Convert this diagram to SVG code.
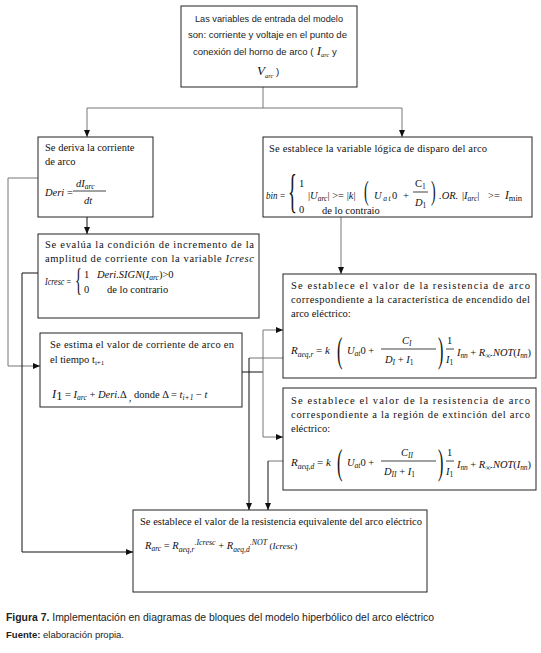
<svg xmlns="http://www.w3.org/2000/svg" width="541" height="653" viewBox="0 0 541 653">
<style>
.bx{fill:#fff;stroke:#222;stroke-width:1}
.s{font-family:"Liberation Serif",serif;font-size:10.5px;fill:#111}
.sa{font-family:"Liberation Sans",sans-serif;font-size:9.5px;fill:#222}
.i{font-style:italic}
.sub{font-size:7.5px;font-style:italic}
.ln{fill:none;stroke:#111;stroke-width:1}
.lg{fill:none;stroke:#777;stroke-width:1}
.fl{stroke:#111;stroke-width:0.8}
</style>
<defs>
<marker id="ar" markerUnits="userSpaceOnUse" markerWidth="7" markerHeight="6" refX="7" refY="3" orient="auto">
<path d="M0,0 L7,3 L0,6 z" fill="#111"/>
</marker>
</defs>
<rect width="541" height="653" fill="#fff"/>

<g id="connectors">
<path class="lg" d="M263 87 V108 H87 V137" marker-end="url(#ar)"/>
<path class="lg" d="M263 108 H402 V137" marker-end="url(#ar)"/>
<path class="ln" d="M87 217 V234" marker-end="url(#ar)"/>
<path class="lg" d="M38 178 H8 V366 H40" marker-end="url(#ar)"/>
<path class="ln" d="M38 273 H22 V552 H133" marker-end="url(#ar)"/>
<path class="lg" d="M341 217 V274" marker-end="url(#ar)"/>
<path class="ln" d="M242 372 H263"/>
<path class="lg" d="M263 372 V330 H283" marker-end="url(#ar)"/>
<path class="lg" d="M263 372 V437 H283" marker-end="url(#ar)"/>
<path class="lg" d="M283 358 H249"/>
<path class="ln" d="M249 358 V510" marker-end="url(#ar)"/>
<path class="lg" d="M283 461 H268"/>
<path class="ln" d="M268 461 V510" marker-end="url(#ar)"/>
</g>

<g id="input">
<rect class="bx" x="181" y="6" width="176" height="81" stroke="#555"/>
<text class="sa" x="195" y="22" textLength="148" lengthAdjust="spacingAndGlyphs">Las variables de entrada del modelo</text>
<text class="sa" x="188" y="38" textLength="159" lengthAdjust="spacingAndGlyphs">son: corriente y voltaje en el punto de</text>
<text class="sa" x="193" y="55">conexión del horno de arco (<tspan font-family="Liberation Serif, serif" font-style="italic" font-size="13px"> I</tspan><tspan font-family="Liberation Serif, serif" font-style="italic" font-size="6.5px" dy="2">arc</tspan><tspan dy="-2"> y</tspan></text>
<text class="s i" x="257" y="75" style="font-size:13px">V<tspan font-size="6.5px" dy="3">arc</tspan><tspan font-family="Liberation Sans, sans-serif" font-style="normal" font-size="9.5px" dy="-3"> )</tspan></text>
</g>

<g id="deri">
<rect class="bx" x="38" y="137" width="115" height="80"/>
<text class="s" x="45" y="151">Se deriva la corriente</text>
<text class="s" x="45" y="165">de arco</text>
<text class="s i" x="45" y="196">Deri <tspan font-style="normal">=</tspan></text>
<text class="s i" x="76" y="187">dI<tspan class="sub" dy="2">arc</tspan></text>
<line class="fl" x1="73" y1="191" x2="106" y2="191"/>
<text class="s i" x="84" y="204">dt</text>
</g>

<g id="icresc">
<rect class="bx" x="38" y="234" width="221" height="84"/>
<text class="s" x="45" y="248" textLength="209" lengthAdjust="spacing">Se evalúa la condición de incremento de la</text>
<text class="s" x="45" y="262" textLength="209" lengthAdjust="spacing">amplitud de corriente con la variable <tspan class="i">Icresc</tspan></text>
<text class="s i" x="45" y="285" textLength="26" lengthAdjust="spacingAndGlyphs">Icresc <tspan font-style="normal">=</tspan></text>
<text class="s" transform="translate(75,291) scale(0.45,1)" style="font-size:32px">{</text>
<text class="s" x="84" y="278">1</text>
<text class="s i" x="97" y="278">Deri.SIGN<tspan font-style="normal">(</tspan>I<tspan class="sub" dy="2">arc</tspan><tspan font-style="normal" dy="-2">)&gt;0</tspan></text>
<text class="s" x="84" y="293">0</text>
<text class="s" x="107" y="293">de lo contrario</text>
</g>

<g id="estima">
<rect class="bx" x="40" y="333" width="202" height="74"/>
<text class="s" x="50" y="348" textLength="184" lengthAdjust="spacing">Se estima el valor de corriente de arco en</text>
<text class="s" x="50" y="363">el tiempo t<tspan font-size="7px" dy="2">i+1</tspan></text>
<text class="s" x="52" y="398" style="font-size:12.5px"><tspan class="i">I</tspan><tspan dy="2">1</tspan><tspan dy="-2" font-size="10.5px"> = </tspan><tspan class="i" font-size="10.5px">I</tspan><tspan class="sub" dy="2">arc</tspan><tspan font-size="10.5px" dy="-2"> + </tspan><tspan class="i" font-size="10.5px">Deri.</tspan><tspan font-size="10.5px">Δ</tspan><tspan font-size="10.5px" dy="3"> , </tspan><tspan font-size="10.5px" dy="-3">donde Δ = </tspan><tspan class="i" font-size="10.5px">t</tspan><tspan class="sub" dy="2">i+1</tspan><tspan font-size="10.5px" dy="-2"> − </tspan><tspan class="i" font-size="10.5px">t</tspan></text>
</g>

<g id="disparo">
<rect class="bx" x="263" y="137" width="269" height="80"/>
<text class="s" x="269" y="152" textLength="218" lengthAdjust="spacing">Se establece la variable lógica de disparo del arco</text>
<text class="s i" x="266" y="199" textLength="19" lengthAdjust="spacingAndGlyphs">bin <tspan font-style="normal">=</tspan></text>
<text class="s" transform="translate(288,207) scale(0.4,1)" style="font-size:46px">{</text>
<text class="s" x="299" y="187">1</text>
<text class="s" x="308" y="199">|<tspan class="i">U</tspan><tspan class="sub" dy="2">arc</tspan><tspan dy="-2">| &gt;= |</tspan><tspan class="i">k</tspan>|</text>
<text class="s" transform="translate(364,200) scale(0.5,1)" style="font-size:28px">(</text>
<text class="s i" x="374" y="199" textLength="35" lengthAdjust="spacing">U<tspan class="sub" dy="2">at</tspan><tspan font-style="normal" dy="-2">0 +</tspan></text>
<text class="s" x="415" y="187">C<tspan font-size="7.5px" dy="2">1</tspan></text>
<text class="s i" x="415" y="206">D<tspan font-size="7.5px" font-style="normal" dy="2">1</tspan></text>
<line class="fl" x1="413" y1="192" x2="428" y2="192"/>
<text class="s" transform="translate(431,200) scale(0.5,1)" style="font-size:28px">)</text>
<text class="s i" x="439" y="199">.OR.</text>
<text class="s" x="462" y="199">|<tspan class="i">I</tspan><tspan class="sub" dy="2">arc</tspan><tspan dy="-2">|</tspan></text>
<text class="s" x="488" y="199">&gt;=</text>
<text class="s i" x="505" y="199" style="font-size:11.5px">I<tspan font-size="8.5px" font-style="normal" dy="2">min</tspan></text>
<text class="s" x="299" y="213">0</text>
<text class="s" x="322" y="214">de lo contraio</text>
</g>

<g id="encendido">
<rect class="bx" x="283" y="274" width="253" height="104"/>
<text class="s" x="291" y="289" textLength="239" lengthAdjust="spacing">Se establece el valor de la resistencia de arco</text>
<text class="s" x="291" y="303" textLength="239" lengthAdjust="spacing">correspondiente a la característica de encendido del</text>
<text class="s" x="291" y="317">arco eléctrico:</text>
<text class="s i" x="291" y="354" style="font-size:11px">R<tspan class="sub" dy="3">aeq,r</tspan><tspan font-style="normal" dy="-3"> = </tspan>k</text>
<text class="s" transform="translate(337,362) scale(0.45,1)" style="font-size:36px">(</text>
<text class="s i" x="347" y="354">U<tspan class="sub" dy="2">at</tspan><tspan font-style="normal" dy="-2">0 + </tspan></text>
<text class="s i" x="402" y="344">C<tspan class="sub" dy="2">I</tspan></text>
<line class="fl" x1="381" y1="349" x2="436" y2="349"/>
<text class="s i" x="385" y="363">D<tspan class="sub" dy="2">I</tspan><tspan font-style="normal" dy="-2"> + </tspan>I<tspan font-size="7.5px" font-style="normal" dy="2">1</tspan></text>
<text class="s" transform="translate(438,362) scale(0.45,1)" style="font-size:36px">)</text>
<text class="s" x="447" y="344">1</text>
<line class="fl" x1="446" y1="349" x2="454" y2="349"/>
<text class="s i" x="446" y="363">I<tspan font-size="7.5px" font-style="normal" dy="2">1</tspan></text>
<text class="s i" x="457" y="356" textLength="74" lengthAdjust="spacing">I<tspan class="sub" dy="2">nn</tspan><tspan font-style="normal" dy="-2"> + </tspan>R<tspan class="sub" dy="2">∞</tspan><tspan dy="-2">.NOT</tspan><tspan font-style="normal">(</tspan>I<tspan class="sub" dy="2">nn</tspan><tspan font-style="normal" dy="-2">)</tspan></text>
</g>

<g id="extincion">
<rect class="bx" x="283" y="388" width="253" height="102"/>
<text class="s" x="291" y="404" textLength="239" lengthAdjust="spacing">Se establece el valor de la resistencia de arco</text>
<text class="s" x="291" y="418" textLength="239" lengthAdjust="spacing">correspondiente a la región de extinción del arco</text>
<text class="s" x="291" y="432">eléctrico:</text>
<text class="s i" x="291" y="466" style="font-size:11px">R<tspan class="sub" dy="3">aeq,d</tspan><tspan font-style="normal" dy="-3"> = </tspan>k</text>
<text class="s" transform="translate(337,474) scale(0.45,1)" style="font-size:36px">(</text>
<text class="s i" x="347" y="466">U<tspan class="sub" dy="2">at</tspan><tspan font-style="normal" dy="-2">0 + </tspan></text>
<text class="s i" x="401" y="456">C<tspan class="sub" dy="2">II</tspan></text>
<line class="fl" x1="381" y1="461" x2="436" y2="461"/>
<text class="s i" x="384" y="475">D<tspan class="sub" dy="2">II</tspan><tspan font-style="normal" dy="-2"> + </tspan>I<tspan font-size="7.5px" font-style="normal" dy="2">1</tspan></text>
<text class="s" transform="translate(438,474) scale(0.45,1)" style="font-size:36px">)</text>
<text class="s" x="447" y="456">1</text>
<line class="fl" x1="446" y1="461" x2="454" y2="461"/>
<text class="s i" x="446" y="475">I<tspan font-size="7.5px" font-style="normal" dy="2">1</tspan></text>
<text class="s i" x="457" y="468" textLength="74" lengthAdjust="spacing">I<tspan class="sub" dy="2">nn</tspan><tspan font-style="normal" dy="-2"> + </tspan>R<tspan class="sub" dy="2">∞</tspan><tspan dy="-2">.NOT</tspan><tspan font-style="normal">(</tspan>I<tspan class="sub" dy="2">nn</tspan><tspan font-style="normal" dy="-2">)</tspan></text>
</g>

<g id="equivalente">
<rect class="bx" x="133" y="510" width="294" height="82"/>
<text class="s" x="140" y="525" textLength="282" lengthAdjust="spacing">Se establece el valor de la resistencia equivalente del arco eléctrico</text>
<text class="s i" x="145" y="549">R<tspan class="sub" dy="2">arc</tspan><tspan font-style="normal" dy="-2"> = </tspan>R<tspan class="sub" dy="3">aeq,r</tspan><tspan font-size="8px" dy="-7">.Icresc</tspan><tspan font-style="normal" dy="4"> + </tspan>R<tspan class="sub" dy="3">aeq,d</tspan><tspan font-size="8px" dy="-7">.NOT</tspan><tspan font-style="normal" font-size="9px" dy="4"> (</tspan><tspan font-size="9px">Icresc</tspan><tspan font-style="normal" font-size="9px">)</tspan></text>
</g>

<g id="caption">
<text class="sa" x="6" y="621" style="font-size:10px" textLength="428" lengthAdjust="spacingAndGlyphs"><tspan font-weight="bold">Figura 7.</tspan> Implementación en diagramas de bloques del modelo hiperbólico del arco eléctrico</text>
<text class="sa" x="6" y="638" style="font-size:8.5px" textLength="118" lengthAdjust="spacingAndGlyphs"><tspan font-weight="bold">Fuente:</tspan> elaboración propia.</text>
</g>
</svg>
